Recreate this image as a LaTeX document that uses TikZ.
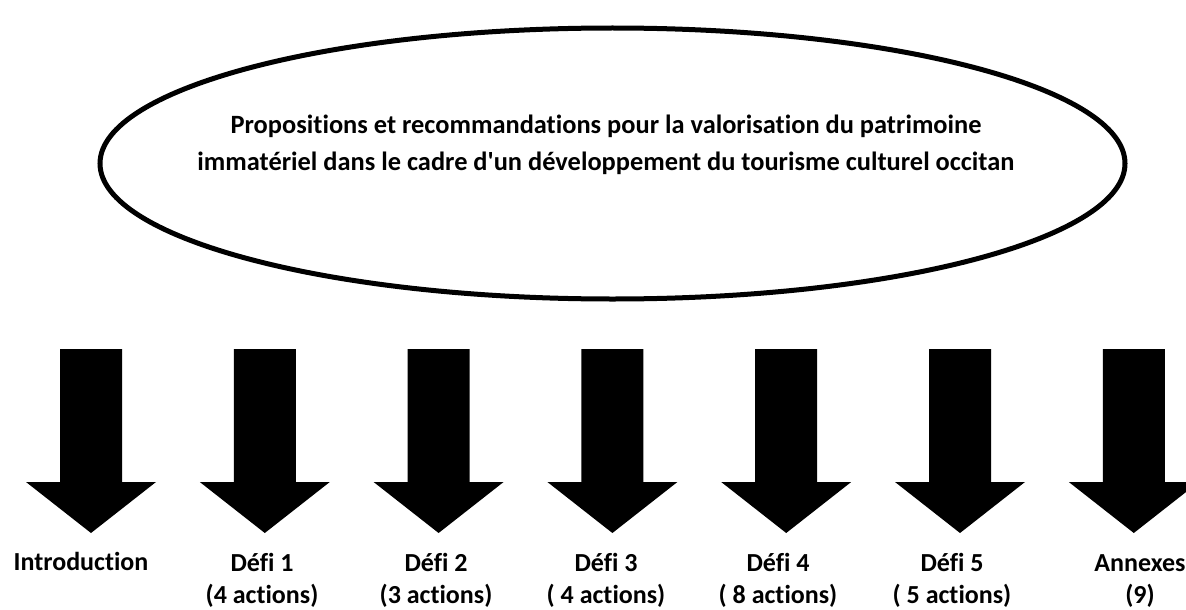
\documentclass[tikz,border=0pt]{standalone}
\usepackage{fontspec}
\setmainfont{Carlito}[Ligatures=NoCommon]

\begin{document}
\begin{tikzpicture}[x=1pt, y=-1pt,
  lbl/.style={font=\bfseries\fontsize{26}{31.5}\selectfont, align=center, inner sep=0pt, anchor=base},
  titlelbl/.style={font=\bfseries\fontsize{26.4}{36.6}\selectfont, align=center, inner sep=0pt}]

  % Page frame
  \useasboundingbox (0,0) rectangle (1186,610);

  % Define arrow sizes
  \def\shaft{31}
  \def\head{65}

  % Title ellipse
  \draw[line width=5pt] (612.5,163.5) ellipse (512.5 and 135.5);
  \node[titlelbl] (title) at (606,145) {Propositions et recommandations pour la valorisation du patrimoine\\immatériel dans le cadre d\textquotesingle un développement du tourisme culturel occitan};

  % Block arrows
  \foreach \i in {0,...,6} {
    \pgfmathsetmacro{\cx}{91+173.8*\i}
    \fill (\cx-\shaft,349) -- (\cx+\shaft,349) -- (\cx+\shaft,482) -- (\cx+\head,482)
      -- (\cx,533) -- (\cx-\head,482) -- (\cx-\shaft,482) -- cycle;
  }

  % Labels (base = last line)
  \node[lbl] (intro) at (81,570) {Introduction};
  \node[lbl] (defi1) at (262,603) {Défi 1\\(4 actions)};
  \node[lbl] (defi2) at (436,603) {Défi 2\\(3 actions)};
  \node[lbl] (defi3) at (606,603) {Défi 3\\( 4 actions)};
  \node[lbl] (defi4) at (778,603) {Défi 4\\( 8 actions)};
  \node[lbl] (defi5) at (952,603) {Défi 5\\( 5 actions)};
  \node[lbl] (annexes) at (1140,603) {Annexes\\(9)};

\end{tikzpicture}
\end{document}
